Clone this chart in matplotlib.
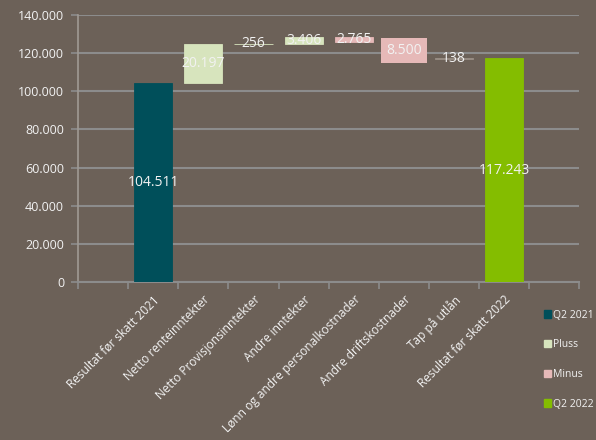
import numpy as np
import matplotlib
matplotlib.use("Agg")
import matplotlib.pyplot as plt
from matplotlib.patches import Patch

# data
kategorier = ["Resultat før skatt 2021", "Netto renteinntekter", "Netto Provisjonsinntekter",
              "Andre inntekter", "Lønn og andre personalkostnader", "Andre driftskostnader",
              "Tap på utlån", "Resultat før skatt 2022"]
start = 104511
endringer = [20197, 256, 3406, -2765, -8500, 138]
slutt = 117243
etiketter = ["104.511", "20.197", "256", "3.406", "2.765", "8.500", "138", "117.243"]
legend_navn = ["Q2 2021", "Pluss", "Minus", "Q2 2022"]

bg = "#6c6158"
c_2021 = "#004f5a"
c_pluss = "#d7e4bd"
c_minus = "#e6b9b8"
c_2022 = "#84bd00"
c_tap = "#9a8f86"
tekst = "#f2f2f2"

plt.rcParams['font.family'] = ['Open Sans', 'DejaVu Sans']

# bunn og topp for hver søyle
nivaa = np.concatenate([[start], start + np.cumsum(endringer)])
bunn = [0]
hoyde = [start]
for i, d in enumerate(endringer):
    lo = min(nivaa[i], nivaa[i + 1])
    bunn.append(lo)
    hoyde.append(abs(d))
bunn.append(0)
hoyde.append(slutt)
farger = [c_2021] + [c_pluss if d > 0 else c_minus for d in endringer] + [c_2022]
farger[6] = c_tap

fig = plt.figure(figsize=(5.96, 4.40), dpi=100, facecolor=bg)
ax = fig.add_axes([0.131, 0.359, 0.841, 0.607])
ax.set_facecolor(bg)

x = np.arange(len(kategorier))
ax.bar(x, hoyde, bottom=bunn, width=0.76, color=farger, edgecolor=farger, linewidth=0.6, zorder=3)

for i, lab in enumerate(etiketter):
    ymid = bunn[i] + hoyde[i] / 2
    if i == 5:
        ax.text(x[i], ymid, lab, ha='center', va='center', color=tekst, fontsize=10, zorder=5,
                bbox=dict(boxstyle='square,pad=0.35', fc=c_minus, ec='none'))
    else:
        ax.text(x[i], ymid, lab, ha='center', va='center', color=tekst, fontsize=10, zorder=5)

ax.set_xlim(-1.5, 8.5)
ax.set_ylim(0, 140000)
yt = np.arange(0, 140001, 20000)
ax.set_yticks(yt)
ax.set_yticklabels([f"{v:,}".replace(",", ".") for v in yt])
ax.yaxis.grid(True, color="#8c8c8c", linewidth=1.5, zorder=0)
ax.set_axisbelow(True)

ax.set_xticks(x)
ax.set_xticklabels(kategorier, rotation=45, ha='right', rotation_mode='anchor')
ax.set_xticks(np.arange(-1.5, 8.6, 1), minor=True)
ax.tick_params(axis='x', which='major', length=0, pad=8, labelsize=8.6, labelcolor=tekst)
ax.tick_params(axis='x', which='minor', length=5, color="#8c8c8c", width=1.2)
ax.tick_params(axis='y', length=5, color="#8c8c8c", width=1.2, labelsize=9, labelcolor=tekst, pad=5)

for s in ['top', 'right']:
    ax.spines[s].set_visible(False)
ax.spines['left'].set_color("#a09a94")
ax.spines['left'].set_linewidth(1.2)
ax.spines['bottom'].set_color("#8c8c8c")
ax.spines['bottom'].set_linewidth(1.5)

handles = [Patch(color=c) for c in [c_2021, c_pluss, c_minus, c_2022]]
leg = fig.legend(handles, legend_navn, loc='upper left', bbox_to_anchor=(0.905, 0.306),
                 frameon=False, fontsize=7.5, labelcolor=tekst, handlelength=0.7, handleheight=0.7,
                 handletextpad=0.25, labelspacing=1.8, borderaxespad=0)

fig.savefig("out.png", dpi=100, facecolor=bg)
